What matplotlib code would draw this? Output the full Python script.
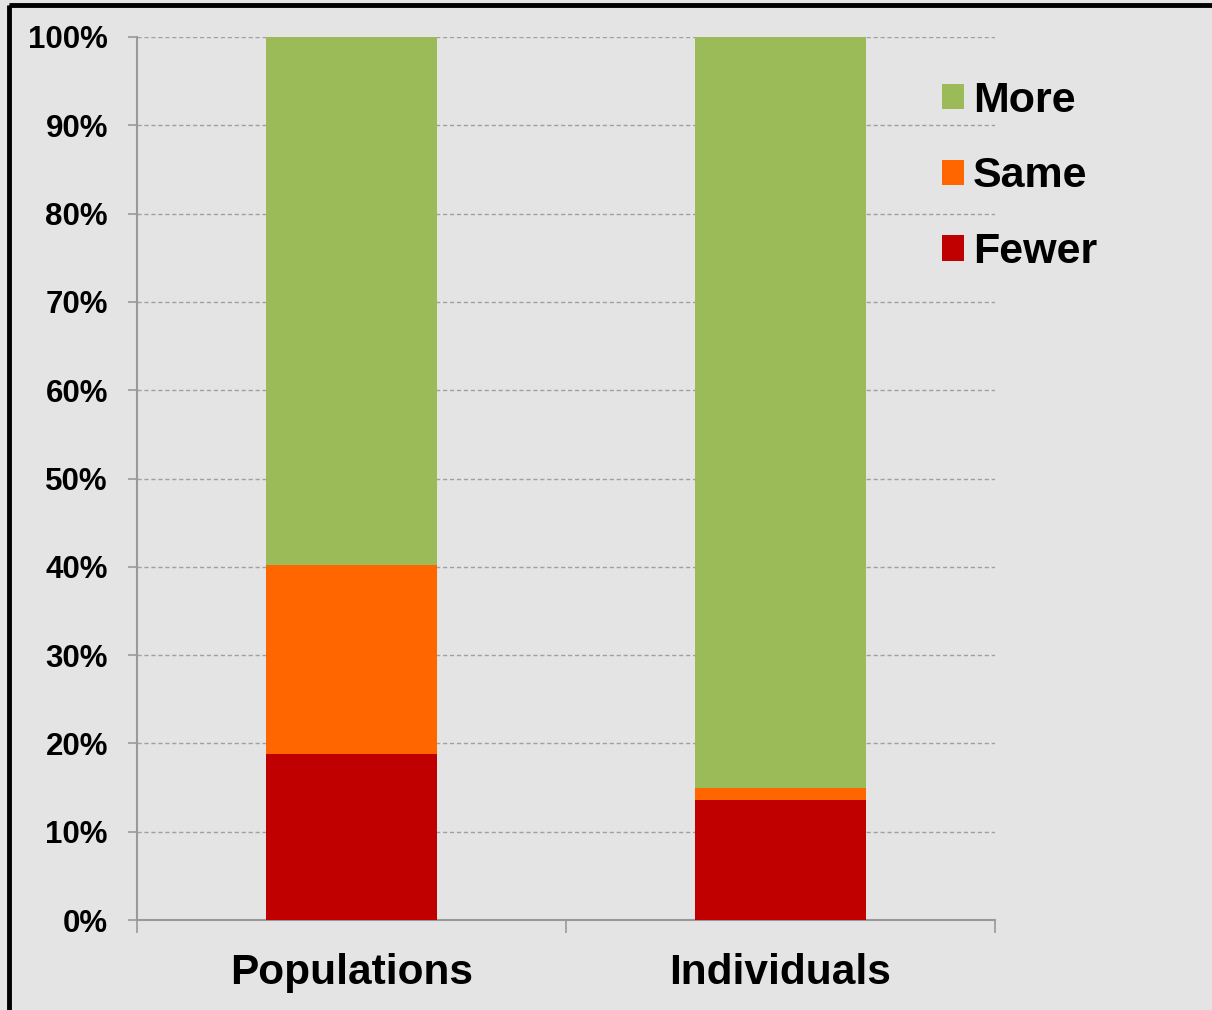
import matplotlib.pyplot as plt
from matplotlib.patches import Rectangle, Patch
from matplotlib.ticker import FixedLocator, PercentFormatter

categories = ['Populations', 'Individuals']
fewer = [18.8, 13.6]
same = [21.4, 1.4]
more = [59.8, 85.0]
series_names = ['Fewer', 'Same', 'More']
colors = ['#c00000', '#ff6600', '#9bbb59']
yticks = [0, 10, 20, 30, 40, 50, 60, 70, 80, 90, 100]

plt.rcParams['font.family'] = ['Liberation Sans', 'DejaVu Sans']
plt.rcParams['font.weight'] = 'bold'

bg = '#e4e4e4'
fig = plt.figure(figsize=(12.12, 10.10), dpi=100, facecolor=bg)
ax = fig.add_axes([137/1212, 90/1010, 858/1212, 883/1010])
ax.set_facecolor(bg)

x = list(range(len(categories)))
bottom = [0] * len(categories)
for vals, c in zip([fewer, same, more], colors):
    ax.bar(x, vals, width=0.4, bottom=bottom, color=c, zorder=3)
    bottom = [b + v for b, v in zip(bottom, vals)]

ax.set_xlim(-0.5, 1.5)
ax.set_ylim(0, 100)
ax.set_yticks(yticks)
ax.yaxis.set_major_formatter(PercentFormatter(decimals=0))
ax.grid(axis='y', color='#a0a0a0', linestyle=(0, (3, 2)), linewidth=1.0, zorder=0)
ax.tick_params(axis='y', length=6.5, width=1.2, color='#999999', labelsize=22.5, pad=14.4)

ax.set_xticks(x)
ax.set_xticklabels(categories)
ax.xaxis.set_minor_locator(FixedLocator([-0.5, 0.5, 1.5]))
ax.tick_params(axis='x', which='major', length=0, labelsize=30.5, pad=24)
ax.tick_params(axis='x', which='minor', length=9.5, width=1.2, color='#999999')

for s in ['top', 'right']:
    ax.spines[s].set_visible(False)
for s in ['left', 'bottom']:
    ax.spines[s].set_color('#999999')
    ax.spines[s].set_linewidth(1.5)

handles = [Patch(facecolor=c) for c in colors][::-1]
labels = series_names[::-1]
ax.legend(handles, labels, loc='upper left', bbox_to_anchor=(903/1212, 1 - 42/1010),
          bbox_transform=fig.transFigure, frameon=False, fontsize=31,
          handlelength=0.52, handleheight=0.52, handletextpad=0.2, labelspacing=0.83)

# figure border, cut at right and bottom
fig.patches.append(Rectangle((9/1212, 1 - 5/1010), 1.2, -1.2, transform=fig.transFigure,
                             fill=False, edgecolor='black', linewidth=3.5, clip_on=False))

fig.savefig('out.png', dpi=100, facecolor=bg)
